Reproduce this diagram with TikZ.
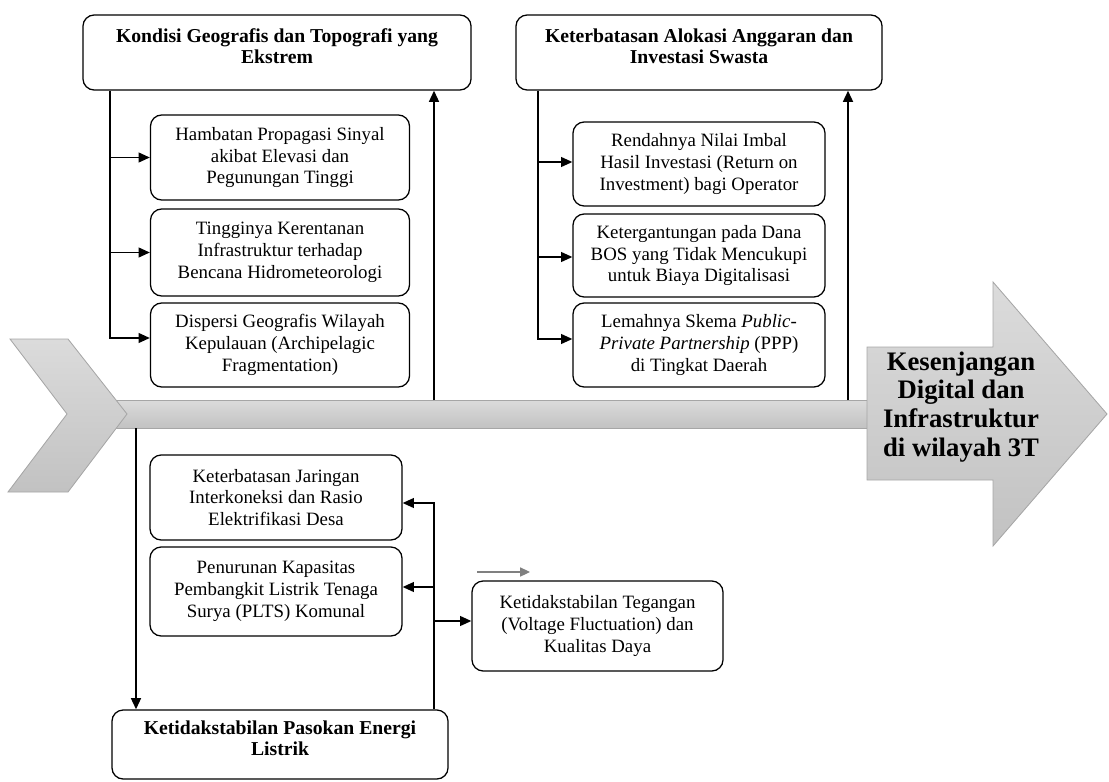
\documentclass[tikz,border=0pt]{standalone}
\usepackage{fontspec}
\setmainfont{Liberation Serif}
\usetikzlibrary{arrows.meta}

\begin{document}
\begin{tikzpicture}[x=0.025cm, y=-0.025cm]

      \tikzset{cause/.style={draw, line width=0.9pt, rounded corners=8pt, align=center, inner sep=0pt, font=\fontsize{13.4}{15.6}\selectfont},
               head/.style={cause, text depth=9pt, font=\bfseries\fontsize{14}{15}\selectfont},
               link/.style={line width=1.1pt, -{Triangle[length=8pt,width=7pt]}},
               spine/.style={draw=gray!70, line width=0.6pt, top color=gray!28, bottom color=gray!48}}
      \useasboundingbox (0,0) rectangle (1109,781);
%% Backbone
        \draw[spine] (90,400) rectangle (875,428);
        \draw[spine] (10,339) -- (68,339) -- (127,414) -- (68,492) -- (8,492) -- (67,414) -- cycle;
        \draw[spine] (867,347) -- (993,347) -- (993,282) -- (1107,414) -- (993,546) -- (993,480) -- (867,480) -- cycle;
        \node[font=\bfseries\fontsize{19}{20.5}\selectfont, align=center] (gap) at (961,407) {Kesenjangan\\Digital dan\\Infrastruktur\\di wilayah 3T};
%% Geografis
        \node[head, minimum width=9.7cm, minimum height=1.875cm] (geo) at (277,52.5) {Kondisi Geografis dan Topografi yang\\Ekstrem};
        \node[cause, minimum width=6.475cm, minimum height=2.125cm] (geo1) at (280,157.5) {Hambatan Propagasi Sinyal\\akibat Elevasi dan\\Pegunungan Tinggi};
        \node[cause, minimum width=6.475cm, minimum height=2.175cm] (geo2) at (280,252.5) {Tingginya Kerentanan\\Infrastruktur terhadap\\Bencana Hidrometeorologi};
        \node[cause, minimum width=6.475cm, minimum height=2.1cm] (geo3) at (280,345) {Dispersi Geografis Wilayah\\Kepulauan (Archipelagic\\Fragmentation)};
%% Anggaran
        \node[head, minimum width=9.15cm, minimum height=1.875cm] (fin) at (699,52.5) {Keterbatasan Alokasi Anggaran dan\\Investasi Swasta};
        \node[cause, minimum width=6.3cm, minimum height=2.1cm] (fin1) at (699,164) {Rendahnya Nilai Imbal\\Hasil Investasi (Return on\\Investment) bagi Operator};
        \node[cause, minimum width=6.3cm, minimum height=2.075cm] (fin2) at (699,255.5) {Ketergantungan pada Dana\\BOS yang Tidak Mencukupi\\untuk Biaya Digitalisasi};
        \node[cause, minimum width=6.3cm, minimum height=2.1cm] (fin3) at (699,345) {Lemahnya Skema \textit{Public-}\\\textit{Private Partnership} (PPP)\\di Tingkat Daerah};
%% Energi
        \node[head, minimum width=8.4cm, minimum height=1.725cm] (ene) at (280,744.5) {Ketidakstabilan Pasokan Energi\\Listrik};
        \node[cause, minimum width=6.3cm, minimum height=2.125cm] (ene1) at (276,497.5) {Keterbatasan Jaringan\\Interkoneksi dan Rasio\\Elektrifikasi Desa};
        \node[cause, minimum width=6.3cm, minimum height=2.225cm] (ene2) at (276,591.5) {Penurunan Kapasitas\\Pembangkit Listrik Tenaga\\Surya (PLTS) Komunal};
        \node[cause, minimum width=6.275cm, minimum height=2.25cm] (ene3) at (597.5,626) {Ketidakstabilan Tegangan\\(Voltage Fluctuation) dan\\Kualitas Daya};
%Connectors
        \coordinate (gb) at (110,90);
        \coordinate (fb) at (538,90);
        \coordinate (eb) at (136,428);
        \coordinate (ec) at (434,710);
        \coordinate (gup) at (434,400);
        \coordinate (fup) at (848,400);
        \coordinate (hint) at (477,572);
        \coordinate (hintend) at (530,572);

        \draw[link] (geo.south -| gb) |- ([yshift=0.175cm]geo3.west);
        \draw[link] (geo1.west -| gb) -- (geo1.west);
        \draw[link] (geo2.west -| gb) -- (geo2.west);
        \draw[link, line width=1.5pt] (gup) -- (geo.south -| gup);

        \draw[link] (fin.south -| fb) |- ([yshift=0.15cm]fin3.west);
        \draw[link] ([yshift=0.05cm]fin1.west -| fb) -- ([yshift=0.05cm]fin1.west);
        \draw[link] ([yshift=-0.0375cm]fin2.west -| fb) -- ([yshift=-0.0375cm]fin2.west);
        \draw[link, line width=1.5pt] (fup) -- (fin.south -| fup);

        \draw[link, line width=1.5pt] (eb) -- (ene.north -| eb);
        \draw[link] (ene.north -| ec) |- ([yshift=-0.1375cm]ene1.east);
        \draw[link] ([yshift=0.1125cm]ene2.east -| ec) -- ([yshift=0.1125cm]ene2.east);
        \draw[link] ([yshift=0.125cm]ene3.west -| ec) -- ([yshift=0.125cm]ene3.west);
        \draw[gray, line width=0.8pt, -{Triangle[length=7pt,width=6.5pt]}] (hint) -- (hintend);

	\end{tikzpicture}
\end{document}
